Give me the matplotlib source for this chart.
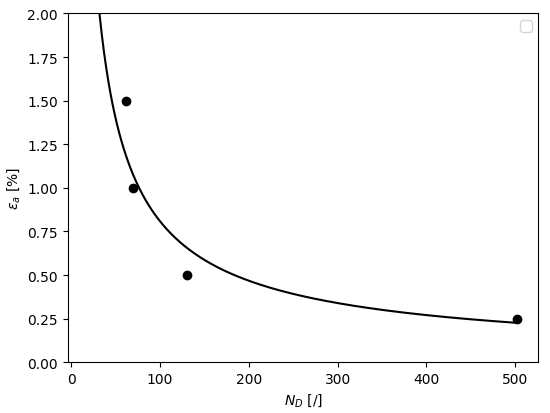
import numpy as np
import matplotlib
matplotlib.use('Agg')
import matplotlib.pyplot as plt

# measured points
n_d = [62, 70, 130, 502]
eps_a = [1.5, 1.0, 0.5, 0.25]

# power law fit eps = a * N^b (least squares in log space)
b, log_a = np.polyfit(np.log(n_d), np.log(eps_a), 1)
n_fit = np.linspace(20, 500, 400)
eps_fit = np.exp(log_a) * n_fit ** b

fig = plt.figure(figsize=(5.5, 4.14), dpi=100)
ax = fig.add_axes([0.123, 0.1225, 0.856, 0.8425])
ax.scatter(n_d, eps_a, color='black')
ax.plot(n_fit, eps_fit, color='black', lw=1.5)
ax.set_ylim(0, 2)
ax.set_xlabel('$N_D$ [/]')
ax.set_ylabel(r'$\varepsilon_a$ [%]')
ax.legend()
fig.savefig('out.png', dpi=100)
